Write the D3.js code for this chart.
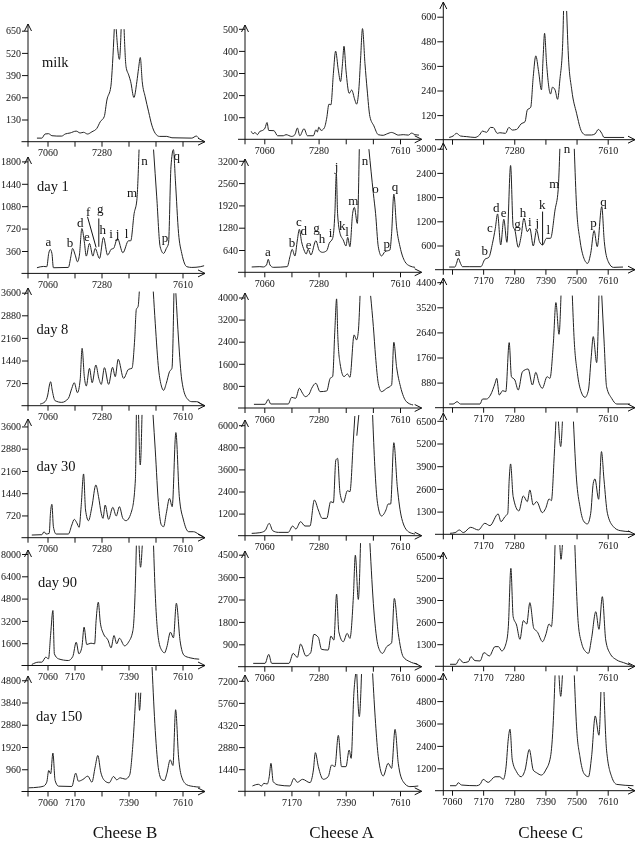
<!DOCTYPE html>
<html>
<head>
<meta charset="utf-8">
<script src="https://cdn.jsdelivr.net/npm/d3@7"></script>
<style>
  html, body { margin: 0; padding: 0; background: #fff; }
  svg { display: block; will-change: transform; }
  text { font-family: "Liberation Serif", serif; fill: #111; }
  .spectrum { fill: none; stroke: #222; stroke-width: 1; stroke-linejoin: round; }
  .axis-line, .axis line, .leader { stroke: #111; stroke-width: 1; fill: none; }
  .axis text { font-size: 10px; }
  .day { font-size: 14.5px; }
  .peak { font-size: 13px; text-anchor: middle; }
  .cheese { font-size: 17px; text-anchor: middle; }
</style>
</head>
<body>
<div id="chart"></div>
<script>
// Data: [m/z, intensity], null marks where a peak runs off the top of the panel
const milkB = [[7017,21],[7037,21],[7050,45],[7064,47],[7078,35],[7098,33],[7118,33],[7132,45],[7152,51],[7177,62],[7193,51],[7207,55],[7223,45],[7241,58],[7261,78],[7275,117],[7291,146],[7302,244],[7318,322],[7325,458],[7332,659],[7336,null],[7340,659],[7353,482],[7360,659],[7366,null],[7372,659],[7380,439],[7391,390],[7399,351],[7412,259],[7424,351],[7431,429],[7438,493],[7446,351],[7458,263],[7472,175],[7485,97],[7499,49],[7516,31],[7546,31],[7567,23],[7648,21],[7666,33],[7675,23]];
const day1B = [[7017,91],[7044,112],[7057,107],[7065,321],[7071,385],[7078,321],[7084,91],[7145,96],[7155,267],[7162,401],[7173,294],[7182,187],[7190,294],[7200,722],[7210,508],[7218,278],[7231,481],[7245,278],[7254,401],[7272,241],[7288,578],[7305,294],[7320,390],[7329,401],[7345,562],[7367,332],[7390,524],[7399,524],[7413,963],[7424,1177],[7433,1990],[7440,null],[7492,1990],[7505,1230],[7519,428],[7533,321],[7544,401],[7553,482],[7563,1712],[7573,1990],[7581,1498],[7594,642],[7607,321],[7628,107],[7648,96],[7682,107],[7698,123]];
const day8B = [[7030,53],[7050,128],[7061,340],[7068,659],[7073,765],[7079,500],[7091,159],[7118,106],[7145,234],[7159,553],[7169,733],[7182,415],[7193,819],[7201,1828],[7210,925],[7218,627],[7231,1190],[7242,733],[7257,1297],[7269,872],[7279,680],[7292,1212],[7309,680],[7325,1222],[7336,925],[7348,1478],[7370,872],[7390,1159],[7404,1190],[7415,2094],[7422,3072],[7429,3157],[7434,3636],[7460,null],[7491,3636],[7499,2626],[7513,1137],[7524,627],[7533,489],[7544,712],[7557,1084],[7567,1190],[7575,3582],[7579,null],[7583,3582],[7594,2094],[7607,819],[7628,234],[7648,128],[7668,128],[7689,21]];
const day30B = [[6996,86],[7037,97],[7046,194],[7054,119],[7067,140],[7072,788],[7078,1080],[7084,356],[7095,119],[7145,119],[7159,410],[7169,594],[7179,486],[7189,335],[7197,1004],[7207,2063],[7215,896],[7227,551],[7241,1004],[7257,1706],[7268,1328],[7279,788],[7286,626],[7295,1058],[7309,594],[7326,983],[7340,702],[7353,1004],[7367,626],[7380,551],[7404,896],[7418,1868],[7422,3974],[7426,null],[7431,3974],[7438,2354],[7445,3974],[7470,null],[7490,3974],[7499,2840],[7513,1004],[7524,410],[7533,356],[7544,788],[7557,1274],[7568,1004],[7583,3402],[7597,1328],[7614,572],[7635,194],[7655,194],[7675,119],[7695,32]];
const day90B = [[6996,72],[7023,239],[7037,239],[7053,598],[7064,478],[7073,2270],[7082,3944],[7088,837],[7105,478],[7145,358],[7163,645],[7177,1673],[7188,837],[7200,1315],[7209,2749],[7220,1506],[7237,1601],[7252,1554],[7258,3226],[7267,4541],[7275,3107],[7288,2270],[7306,1840],[7319,1267],[7331,2151],[7342,1554],[7353,1960],[7374,1410],[7390,1673],[7408,2510],[7418,5856],[7422,8600],[7428,null],[7433,8600],[7439,7050],[7446,8600],[7470,null],[7492,8600],[7499,5138],[7513,1792],[7526,1075],[7537,908],[7546,1315],[7561,2390],[7573,1984],[7585,4469],[7600,1792],[7617,717],[7641,550],[7678,454]];
const day150B = [[6983,158],[7023,187],[7044,230],[7057,403],[7065,907],[7073,763],[7082,1656],[7091,475],[7105,230],[7159,216],[7175,792],[7186,446],[7204,518],[7224,662],[7241,403],[7254,1051],[7265,1555],[7277,835],[7295,446],[7311,374],[7329,648],[7342,504],[7356,590],[7377,533],[7394,691],[7408,2059],[7420,4262],[7425,null],[7431,4262],[7435,3499],[7440,4262],[7460,null],[7486,5371],[7499,2635],[7513,907],[7526,504],[7536,475],[7546,763],[7560,1368],[7571,1123],[7582,3528],[7594,1483],[7607,619],[7628,288],[7655,216],[7682,187]];

const milkA = [[7007,36],[7015,25],[7022,31],[7032,21],[7042,36],[7053,40],[7063,51],[7071,76],[7078,40],[7099,39],[7114,16],[7137,16],[7148,21],[7171,13],[7184,21],[7194,51],[7204,16],[7221,48],[7235,16],[7259,16],[7269,43],[7275,33],[7281,55],[7290,40],[7303,51],[7313,96],[7322,159],[7330,156],[7340,298],[7349,399],[7360,313],[7369,261],[7377,343],[7383,421],[7391,313],[7404,208],[7414,223],[7427,178],[7434,159],[7444,238],[7450,358],[7458,501],[7468,343],[7477,223],[7488,103],[7504,61],[7522,21],[7542,18],[7556,24],[7576,31],[7585,28],[7603,19],[7623,21],[7644,19],[7657,28],[7671,21],[7687,19]];
const day1A = [[7009,153],[7042,162],[7056,153],[7069,210],[7076,372],[7083,210],[7096,143],[7153,162],[7164,449],[7173,659],[7184,468],[7194,926],[7202,1232],[7211,879],[7221,640],[7230,525],[7238,659],[7249,497],[7269,907],[7283,621],[7296,573],[7313,621],[7323,831],[7337,974],[7346,1690],[7352,2836],[7357,1690],[7367,1117],[7380,926],[7391,754],[7398,1003],[7407,735],[7418,1690],[7425,1862],[7437,1404],[7445,3533],[7465,null],[7484,3533],[7502,2263],[7511,1690],[7522,735],[7535,468],[7549,592],[7569,640],[7576,1117],[7585,2244],[7596,1308],[7610,735],[7630,306],[7650,181],[7671,143]];
const day8A = [[7018,133],[7063,133],[7076,314],[7086,145],[7157,145],[7171,387],[7187,350],[7202,713],[7215,532],[7226,411],[7242,507],[7252,713],[7269,894],[7286,592],[7313,616],[7327,1075],[7337,1136],[7346,2827],[7353,3950],[7358,2585],[7367,1619],[7383,1136],[7397,1232],[7407,1111],[7424,2646],[7434,2464],[7441,2766],[7448,4059],[7470,null],[7491,4059],[7502,2948],[7511,1860],[7522,894],[7535,592],[7556,713],[7576,834],[7585,2380],[7596,1498],[7612,773],[7636,230],[7663,109]];
const day30A = [[7009,127],[7042,163],[7063,272],[7080,670],[7094,272],[7117,181],[7157,181],[7175,525],[7188,362],[7207,760],[7225,525],[7245,525],[7263,1937],[7279,1394],[7295,941],[7313,941],[7329,1846],[7340,1792],[7350,4109],[7357,4199],[7367,2299],[7380,1792],[7397,2444],[7407,2389],[7421,5195],[7427,6498],[7431,null],[7435,5430],[7443,6552],[7470,null],[7499,6552],[7508,3747],[7519,1756],[7535,1068],[7553,1394],[7562,1720],[7572,1720],[7585,5050],[7599,2661],[7617,941],[7644,217],[7671,91]];
const day90A = [[7015,134],[7063,134],[7078,495],[7090,134],[7160,134],[7177,535],[7194,375],[7207,910],[7229,428],[7248,562],[7261,1298],[7279,1177],[7292,696],[7319,669],[7330,1231],[7342,1070],[7353,2917],[7362,1405],[7380,1003],[7396,1338],[7407,1137],[7421,2810],[7429,4482],[7441,2703],[7450,4964],[7470,null],[7488,4964],[7504,2275],[7522,803],[7539,535],[7556,803],[7576,963],[7587,2743],[7603,1338],[7623,401],[7650,201],[7680,107]];
const day150A = [[7012,347],[7036,456],[7049,347],[7058,521],[7072,477],[7080,955],[7087,1823],[7096,629],[7117,412],[7164,347],[7180,846],[7194,586],[7215,781],[7245,564],[7259,1389],[7267,2517],[7279,1606],[7299,781],[7319,955],[7333,1714],[7346,1606],[7360,3646],[7373,1606],[7391,1606],[7404,2691],[7412,2148],[7423,6380],[7430,7638],[7432,null],[7435,7638],[7445,4861],[7454,7638],[7475,null],[7499,7682],[7511,4427],[7522,2257],[7542,998],[7562,1823],[7576,1497],[7590,4036],[7603,1823],[7623,629],[7650,304],[7684,347]];

const milkC = [[7050,11],[7064,18],[7076,31],[7090,18],[7112,15],[7141,11],[7157,23],[7168,42],[7182,36],[7196,60],[7206,59],[7220,31],[7229,34],[7249,31],[7261,60],[7273,47],[7288,50],[7304,77],[7318,88],[7326,145],[7338,158],[7347,308],[7356,409],[7366,332],[7376,243],[7382,405],[7387,519],[7394,373],[7408,223],[7415,256],[7424,243],[7433,197],[7441,291],[7451,470],[7454,628],[7460,null],[7465,628],[7471,413],[7483,243],[7500,129],[7518,39],[7532,23],[7553,23],[7565,28],[7577,50],[7589,31],[7597,11],[7668,11]];
const day1C = [[7050,66],[7070,66],[7076,157],[7082,282],[7090,157],[7097,75],[7123,75],[7162,75],[7176,257],[7190,306],[7203,654],[7213,1027],[7221,1383],[7232,613],[7243,1250],[7254,679],[7267,2583],[7276,1068],[7282,985],[7294,555],[7304,820],[7314,1275],[7326,944],[7335,1027],[7347,588],[7359,985],[7369,696],[7380,613],[7394,778],[7408,778],[7424,1482],[7435,1979],[7441,2997],[7465,null],[7492,2997],[7500,1565],[7512,737],[7524,323],[7539,157],[7550,406],[7562,969],[7573,571],[7589,1565],[7598,696],[7612,199],[7630,58],[7664,66]];
const day8C = [[7050,129],[7064,129],[7078,211],[7090,129],[7159,129],[7168,304],[7182,304],[7196,445],[7212,854],[7218,1030],[7227,445],[7239,597],[7250,562],[7262,2282],[7270,1088],[7282,971],[7294,620],[7309,1264],[7329,1357],[7344,796],[7356,1240],[7368,854],[7379,679],[7396,1088],[7406,1030],[7418,2258],[7427,3686],[7438,2574],[7445,3931],[7465,null],[7485,3931],[7491,2492],[7503,1205],[7516,562],[7530,363],[7542,620],[7551,1673],[7559,2492],[7571,1580],[7579,3931],[7584,null],[7589,3931],[7597,2375],[7606,737],[7624,328],[7642,129],[7689,129]];
const day30C = [[7053,57],[7071,96],[7086,248],[7100,96],[7126,401],[7153,248],[7176,630],[7194,497],[7223,1165],[7233,726],[7247,1012],[7257,1203],[7262,3113],[7267,4030],[7276,2158],[7296,1337],[7312,2197],[7326,1872],[7335,2540],[7347,1681],[7359,1872],[7379,1241],[7391,1490],[7403,2025],[7411,1929],[7421,4450],[7427,6456],[7431,null],[7436,6456],[7444,5023],[7450,6456],[7470,null],[7489,6456],[7500,3113],[7512,1585],[7524,783],[7538,592],[7550,1203],[7559,2922],[7565,3171],[7578,2006],[7588,4737],[7597,3113],[7609,1203],[7630,439],[7654,210],[7689,153]];
const day90C = [[7053,118],[7074,118],[7086,431],[7100,216],[7118,274],[7127,568],[7141,333],[7159,314],[7173,804],[7192,608],[7212,1156],[7224,1156],[7236,902],[7251,1352],[7259,2332],[7268,5762],[7276,2920],[7288,2430],[7300,1588],[7312,2685],[7324,2489],[7335,3744],[7349,2234],[7361,2038],[7380,1450],[7391,1842],[7403,2489],[7411,2332],[7420,4880],[7424,7130],[7432,null],[7441,7130],[7445,6292],[7450,7130],[7470,null],[7494,7130],[7506,2528],[7518,1352],[7532,862],[7542,764],[7553,1646],[7568,3214],[7579,2176],[7591,4096],[7603,1548],[7618,764],[7642,372],[7666,216],[7695,39]];
const day150C = [[7053,267],[7074,267],[7082,427],[7094,303],[7147,267],[7159,338],[7170,605],[7188,445],[7212,748],[7229,748],[7241,605],[7251,1282],[7259,2795],[7265,3293],[7273,1638],[7288,1015],[7304,748],[7318,1104],[7333,2207],[7347,1104],[7359,961],[7376,837],[7391,1104],[7408,1816],[7418,3774],[7424,6177],[7430,null],[7438,6177],[7444,5055],[7450,6177],[7470,null],[7492,6177],[7500,3418],[7512,1816],[7526,926],[7542,748],[7553,1816],[7566,4005],[7579,2973],[7586,5287],[7591,null],[7597,5287],[7606,2172],[7624,748],[7642,338],[7701,267]];

// Tick labels
const xTicks = [7060, 7170, 7280, 7390, 7500, 7610];
const days = ["milk", "day 1", "day 8", "day 30", "day 90", "day 150"];
const yTickStepB = [130, 360, 720, 720, 1600, 960];
const yTickStepA = [100, 640, 800, 1200, 900, 1440];
const yTickStepC = [120, 600, 880, 1300, 1300, 1200];
const xLabelsB = [[7060,7280],[7060,7280,7610],[7060,7280,7610],[7060,7280,7610],[7060,7170,7390,7610],[7060,7170,7390,7610]];
const xLabelsA = [[7060,7280,7610],[7060,7280,7610],[7060,7280,7610],[7060,7280,7610],[7060,7280,7610],[7170,7390,7610]];
const xLabelsC = [[7280,7610],[7170,7280,7390,7500,7610],[7170,7280,7610],[7170,7280,7610],[7170,7280,7610],[7060,7170,7280,7390,7500,7610]];

// Peak letters on the day 1 panels: [letter, m/z, intensity]
const peaksB = [["a",7064,439],["b",7152,428],["d",7193,749],["e",7220,524],["f",7226,920],["g",7275,963],["h",7285,631],["i",7319,562],["j",7345,572],["l",7382,562],["m",7405,1230],["n",7455,1739],["p",7539,508],["q",7587,1830]];
const peaksA = [["a",7075,468],["b",7172,735],["c",7200,1327],["d",7220,1060],["e",7240,680],["g",7272,1165],["h",7294,831],["i",7329,1003],["j",7353,2913],["k",7376,1213],["l",7395,1041],["m",7421,1929],["n",7468,3075],["o",7511,2263],["p",7556,688],["q",7590,2340]];
const peaksC = [["a",7080,348],["b",7176,364],["c",7194,927],["d",7216,1441],["e",7242,1317],["g",7291,1043],["h",7311,1317],["i",7335,1093],["j",7361,1068],["k",7379,1507],["l",7400,886],["m",7421,2037],["n",7466,2890],["p",7560,1052],["q",7595,1581]];
const leadersB = [[[7223,910],[7258,417]],[[7269,883],[7269,428]]];
const leadersC = [[[7380,1441],[7380,613]]];

// Layout, in pixels
const dayLabelPos = [[42,67],[37,191],[36.5,334],[36.5,470.7],[38,586.7],[36,720.7]];
const columns = [
  { name: "Cheese B", center: 125, x7060: 47.5, x7610: 182.5, yAxisX: 28, axisLeft: 21.5, axisRight: 205,
    series: [milkB, day1B, day8B, day30B, day90B, day150B], steps: yTickStepB, labels: xLabelsB,
    zero: [141.7,273.4,405.7,537.7,665.5,791.5], tickPx: [22.2,22.4,22.6,22.25,22.3,22.25], top: [24,157,288,419,550,676],
    peaks: peaksB, leaders: leadersB },
  { name: "Cheese A", center: 341.7, x7060: 264.3, x7610: 400, yAxisX: 245, axisLeft: 238, axisRight: 421.7,
    series: [milkA, day1A, day8A, day30A, day90A, day150A], steps: yTickStepA, labels: xLabelsA,
    zero: [139.3,272.3,408,535.7,666.7,791.3], tickPx: [22.1,22.3,22.1,22.1,22.4,22.1], top: [25,159,293,420,551,675],
    peaks: peaksA, leaders: [] },
  { name: "Cheese C", center: 550.7, x7060: 452, x7610: 607.7, yAxisX: 443.3, axisLeft: 435, axisRight: 635,
    series: [milkC, day1C, day8C, day30C, day90C, day150C], steps: yTickStepC, labels: xLabelsC,
    zero: [139.7,269.7,407.7,534.3,666.3,790.7], tickPx: [24.6,24.2,25.1,22.7,22.1,22.4], top: [2,143,278,413,552,673],
    peaks: peaksC, leaders: leadersC },
];

const svg = d3.select("#chart").append("svg").attr("width", 637).attr("height", 842);

columns.forEach((col) => {
  const xScale = d3.scaleLinear().domain([7060, 7610]).range([col.x7060, col.x7610]);

  days.forEach((day, i) => {
    const zero = col.zero[i];
    const step = col.steps[i];
    const yScale = d3.scaleLinear()
      .domain([0, step * 5])
      .range([zero, zero - 5 * col.tickPx[i]]);
    const g = svg.append("g");

    // Spectrum
    const line = d3.line()
      .defined((d) => d[1] !== null)
      .x((d) => xScale(d[0]))
      .y((d) => yScale(d[1]))
      .curve(d3.curveMonotoneX);
    g.append("path").attr("class", "spectrum").attr("d", line(col.series[i]));

    // X axis
    g.append("g")
      .attr("class", "axis")
      .attr("transform", `translate(0,${zero})`)
      .call(d3.axisBottom(xScale)
        .tickValues(xTicks)
        .tickSize(5)
        .tickPadding(2.5)
        .tickFormat((d) => (col.labels[i].includes(d) ? d : "")))
      .call((a) => a.select(".domain").remove());

    // Y axis
    g.append("g")
      .attr("class", "axis")
      .attr("transform", `translate(${col.yAxisX},0)`)
      .call(d3.axisLeft(yScale)
        .tickValues(d3.range(1, 6).map((k) => k * step))
        .tickSize(6)
        .tickPadding(1)
        .tickFormat((d) => d))
      .call((a) => a.select(".domain").remove());

    // Axis lines with open arrow heads
    const r = col.axisRight;
    const ax = col.yAxisX;
    const top = col.top[i];
    g.append("path").attr("class", "axis-line")
      .attr("d", `M${col.axisLeft},${zero}H${r}M${r - 7},${zero - 3.5}L${r},${zero}L${r - 7},${zero + 3.5}`);
    g.append("path").attr("class", "axis-line")
      .attr("d", `M${ax},${zero + 5}V${top}M${ax - 3.5},${top + 7}L${ax},${top}L${ax + 3.5},${top + 7}`);

    // Sample name
    if (col.name === "Cheese B") {
      g.append("text").attr("class", "day")
        .attr("x", dayLabelPos[i][0]).attr("y", dayLabelPos[i][1]).text(day);
    }

    // Peak letters
    if (i === 1) {
      g.selectAll(".peak")
        .data(col.peaks)
        .join("text")
        .attr("class", "peak")
        .attr("x", (d) => xScale(d[1]))
        .attr("y", (d) => yScale(d[2]))
        .text((d) => d[0]);
      g.selectAll(".leader")
        .data(col.leaders)
        .join("line")
        .attr("class", "leader")
        .attr("x1", (d) => xScale(d[0][0]))
        .attr("y1", (d) => yScale(d[0][1]))
        .attr("x2", (d) => xScale(d[1][0]))
        .attr("y2", (d) => yScale(d[1][1]));
    }
  });

  svg.append("text").attr("class", "cheese")
    .attr("x", col.center).attr("y", 838).text(col.name);
});
</script>
</body>
</html>
